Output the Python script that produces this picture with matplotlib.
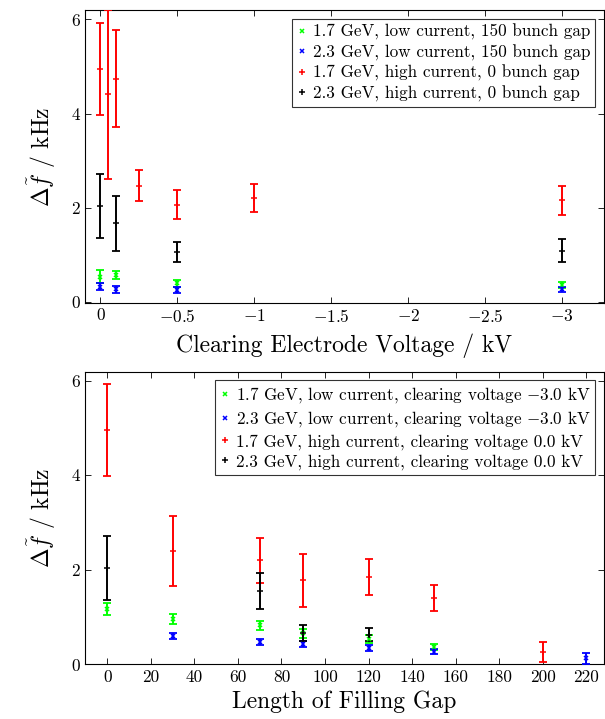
#!/usr/bin/env python3
"""Tune shift vs clearing voltage and filling gap."""
import numpy as np
import matplotlib
matplotlib.use("Agg")
import matplotlib.pyplot as plt
from matplotlib.lines import Line2D
from matplotlib.ticker import FuncFormatter, MultipleLocator

plt.rcParams["font.family"] = ["cmr10", "DejaVu Serif"]
plt.rcParams["mathtext.fontset"] = "cm"
plt.rcParams["axes.unicode_minus"] = True

# --- top panel: clearing electrode voltage (kV) ---
v_low17 = [0.0, -0.1, -0.5, -3.0]
f_low17 = [0.54, 0.57, 0.40, 0.36]
e_low17 = [0.13, 0.09, 0.07, 0.06]
v_low23 = [0.0, -0.1, -0.5, -3.0]
f_low23 = [0.33, 0.27, 0.26, 0.27]
e_low23 = [0.07, 0.07, 0.07, 0.05]
v_high17 = [0.0, -0.05, -0.1, -0.25, -0.5, -1.0, -3.0]
f_high17 = [4.95, 4.41, 4.74, 2.47, 2.07, 2.21, 2.16]
e_high17 = [0.97, 1.80, 1.03, 0.33, 0.30, 0.30, 0.31]
v_high23 = [0.0, -0.1, -0.5, -3.0]
f_high23 = [2.03, 1.67, 1.06, 1.09]
e_high23 = [0.68, 0.59, 0.21, 0.25]

# --- bottom panel: length of filling gap ---
g_low17 = [0, 30, 70, 90, 120, 150]
h_low17 = [1.17, 0.96, 0.83, 0.66, 0.54, 0.37]
d_low17 = [0.12, 0.10, 0.10, 0.10, 0.08, 0.06]
g_low23 = [30, 70, 90, 120, 150, 220]
h_low23 = [0.60, 0.48, 0.44, 0.35, 0.27, 0.13]
d_low23 = [0.07, 0.06, 0.06, 0.06, 0.05, 0.12]
g_high17 = [0, 30, 70, 90, 120, 150, 200]
h_high17 = [4.95, 2.40, 2.20, 1.78, 1.84, 1.41, 0.27]
d_high17 = [0.97, 0.73, 0.47, 0.56, 0.38, 0.28, 0.21]
g_high23 = [0, 70, 90, 120]
h_high23 = [2.04, 1.56, 0.67, 0.63]
d_high23 = [0.67, 0.38, 0.17, 0.14]

GREEN, BLUE, RED, BLACK = "#00ff00", "#0000ff", "#ff0000", "#000000"

labels_top = [
    "1.7 GeV, low current, 150 bunch gap",
    "2.3 GeV, low current, 150 bunch gap",
    "1.7 GeV, high current, 0 bunch gap",
    "2.3 GeV, high current, 0 bunch gap",
]
labels_bot = [
    "1.7 GeV, low current, clearing voltage $-$3.0 kV",
    "2.3 GeV, low current, clearing voltage $-$3.0 kV",
    "1.7 GeV, high current, clearing voltage 0.0 kV",
    "2.3 GeV, high current, clearing voltage 0.0 kV",
]


def mathfmt(v, pos):
    s = "%g" % v
    if s.startswith("-"):
        return r"$-$" + s[1:]
    return s


def draw(ax, series, labels):
    handles = []
    for (x, y, e, c, m), lab in zip(series, labels):
        ax.errorbar(x, y, yerr=e, fmt="none", ecolor=c, elinewidth=1.4,
                    capsize=2.6, capthick=1.3, zorder=3)
        ms = 3.5 if m == "x" else 5
        ax.plot(x, y, ls="none", marker=m, color=c, ms=ms, mew=1.1, zorder=4)
        handles.append(Line2D([], [], ls="none", marker=m, color=c, ms=ms, mew=1.1))
    ax.tick_params(direction="in", top=True, right=True, length=4,
                   labelsize=12.5, width=0.6)
    ax.yaxis.set_major_locator(MultipleLocator(2))
    ax.xaxis.set_major_formatter(FuncFormatter(mathfmt))
    ax.set_ylabel(r"$\Delta\tilde{f}$ / kHz", fontsize=17, labelpad=10)
    leg = ax.legend(handles, labels, loc="upper right", fontsize=12.3,
                    frameon=True, fancybox=False, edgecolor="black",
                    handlelength=0.6, handletextpad=0.3, borderpad=0.3,
                    labelspacing=0.25, borderaxespad=0.5)
    leg.get_frame().set_linewidth(0.8)
    for s in ax.spines.values():
        s.set_linewidth(0.8)


fig = plt.figure(figsize=(6.05, 7.19), dpi=100)
ax1 = fig.add_axes([0.1405, 0.5786, 0.8575, 0.4074])
ax2 = fig.add_axes([0.1405, 0.0758, 0.8575, 0.4072])

draw(ax1, [
    (v_low17, f_low17, e_low17, GREEN, "x"),
    (v_low23, f_low23, e_low23, BLUE, "x"),
    (v_high17, f_high17, e_high17, RED, "+"),
    (v_high23, f_high23, e_high23, BLACK, "+"),
], labels_top)
ax1.set_xlim(0.1, -3.27)
ax1.set_ylim(-0.02, 6.2)
ax1.xaxis.set_major_locator(MultipleLocator(0.5))
ax1.set_xlabel("Clearing Electrode Voltage / kV", fontsize=17, labelpad=6)

draw(ax2, [
    (g_low17, h_low17, d_low17, GREEN, "x"),
    (g_low23, h_low23, d_low23, BLUE, "x"),
    (g_high17, h_high17, d_high17, RED, "+"),
    (g_high23, h_high23, d_high23, BLACK, "+"),
], labels_bot)
ax2.set_xlim(-10.2, 228)
ax2.set_ylim(0, 6.19)
ax2.xaxis.set_major_locator(MultipleLocator(20))
ax2.set_xlabel("Length of Filling Gap", fontsize=17, labelpad=4)

fig.savefig("out.png", dpi=100)
